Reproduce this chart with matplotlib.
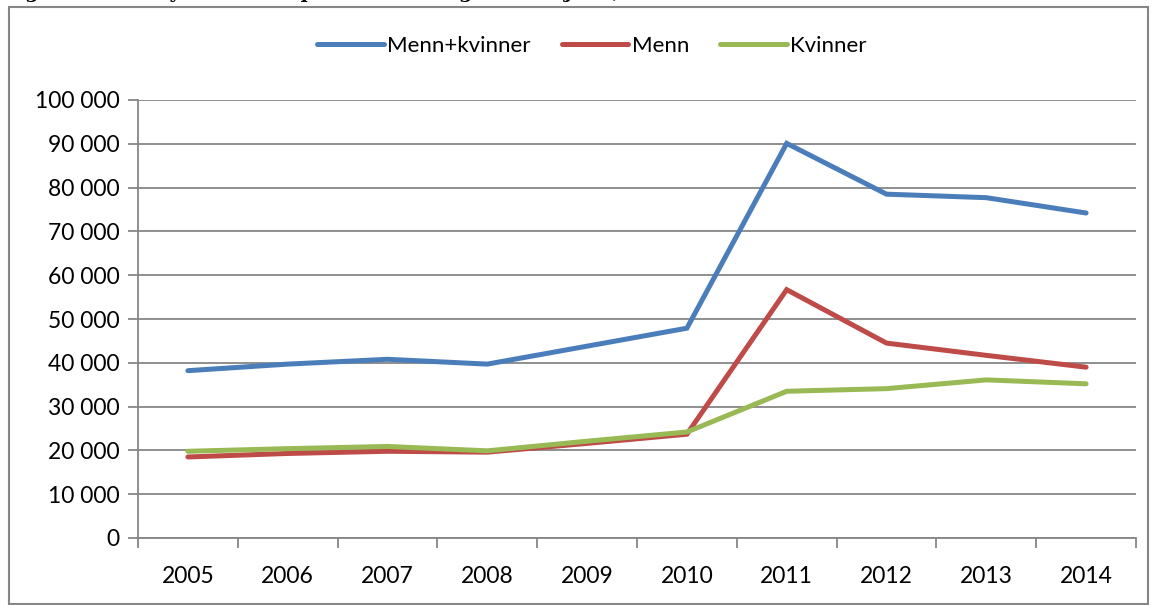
import matplotlib
matplotlib.use("Agg")
import matplotlib.pyplot as plt
from matplotlib.patches import Rectangle
from matplotlib.lines import Line2D

years = ["2005", "2006", "2007", "2008", "2009", "2010", "2011", "2012", "2013", "2014"]
menn_kvinner = [38200, 39700, 40800, 39700, 43800, 47900, 90100, 78500, 77700, 74200]
menn = [18500, 19300, 19800, 19600, 21600, 23700, 56700, 44500, 41700, 39000]
kvinner = [19800, 20400, 20900, 19900, 22100, 24200, 33500, 34100, 36100, 35200]
series_names = ["Menn+kvinner", "Menn", "Kvinner"]
colors = ["#4A7EBB", "#BE4B48", "#98B954"]
yticks = list(range(0, 100001, 10000))

plt.rcParams["font.family"] = ["Lato", "DejaVu Sans"]

W, H = 1157, 605
fig = plt.figure(figsize=(W / 100, H / 100), dpi=100)

# outer chart frame
fig.patches.append(Rectangle((9 / W, 1 - 604 / H), (1148 - 9) / W, (604 - 7) / H,
                             transform=fig.transFigure, fill=False,
                             edgecolor="#868686", linewidth=1.5))
# caption, clipped by the top edge as in the source
fig.text(4 / W, 1 + 7 / H, "Figur 4. Antall yrkesaktive personer i Norge etter kjønn, 2005–2014",
         family="DejaVu Serif", weight="bold", fontsize=14, va="center", ha="left")

ax = fig.add_axes([138 / W, 1 - 538 / H, (1136 - 138) / W, (538 - 100) / H])
x = list(range(len(years)))
for vals, name, c in zip([menn_kvinner, menn, kvinner], series_names, colors):
    ax.plot(x, vals, color=c, linewidth=3.6, solid_capstyle="round",
            solid_joinstyle="miter", label=name, zorder=3)

ax.set_xlim(-0.5, len(years) - 0.5)
ax.set_ylim(0, 100000)
ax.set_yticks(yticks)
ax.set_yticklabels([f"{v:,}".replace(",", " ") for v in yticks], fontsize=16.5)
ax.set_xticks(x)
ax.set_xticklabels(years, fontsize=16.5)
ax.set_xticks([i - 0.5 for i in range(len(years) + 1)], minor=True)
ax.tick_params(axis="x", which="major", length=0, pad=20)
ax.tick_params(axis="x", which="minor", length=7, color="#868686", width=1.3)
ax.tick_params(axis="y", length=7, color="#868686", width=1.3, pad=6)
ax.grid(axis="y", color="#868686", linewidth=1.3)
ax.set_axisbelow(True)
for s in ["top", "right"]:
    ax.spines[s].set_visible(False)
for s in ["left", "bottom"]:
    ax.spines[s].set_color("#868686")
    ax.spines[s].set_linewidth(1.3)

handles = [Line2D([], [], color=c, linewidth=3.6, solid_capstyle="round") for c in colors]
fig.legend(handles, series_names, loc="center", bbox_to_anchor=(592 / W, 1 - 46 / H),
           ncol=3, frameon=False, fontsize=16, handlelength=3.0, handletextpad=0.15,
           columnspacing=1.4)

fig.savefig("out.png", dpi=100)
